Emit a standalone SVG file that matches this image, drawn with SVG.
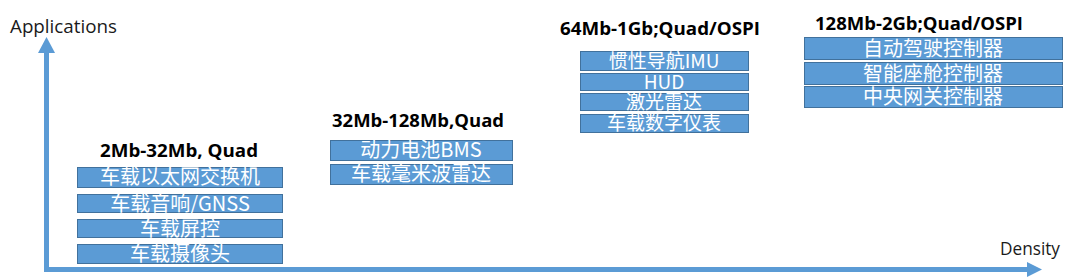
<svg xmlns="http://www.w3.org/2000/svg" width="1080" height="279" viewBox="0 0 1080 279">
<style>
.bx{fill:#5B9BD5;stroke:#41719C;stroke-width:1}
.bt{fill:#FFFFFF;font-family:"Noto Sans CJK SC","Open Sans",sans-serif;font-size:20px;text-anchor:middle}
.bs{font-size:19px}
.ti{fill:#000000;font-family:"Open Sans","Liberation Sans",sans-serif;font-weight:bold;font-size:18px;text-anchor:middle}
.ax{fill:#1A1A1A;font-family:"Open Sans","Liberation Sans",sans-serif;font-size:17.5px}
.axis{fill:#5B9BD5}
</style>
<rect width="1080" height="279" fill="#FFFFFF"/>
<g id="connectors">
<rect class="axis" x="44" y="52" width="5" height="220"/>
<polygon class="axis" points="46.5,37 55,53 38,53"/>
<rect class="axis" x="44" y="267" width="984" height="5"/>
<polygon class="axis" points="1042,269.5 1027,262 1027,277"/>
</g>
<g id="axis-y-label"><text class="ax" x="10" y="33" textLength="107" lengthAdjust="spacingAndGlyphs">Applications</text></g>
<g id="axis-x-label"><text class="ax" x="1000" y="255" textLength="60" lengthAdjust="spacingAndGlyphs">Density</text></g>
<g id="group1">
<text class="ti" x="179" y="157" textLength="158" lengthAdjust="spacingAndGlyphs">2Mb-32Mb, Quad</text>
<rect class="bx" x="77.5" y="167.5" width="205" height="20"/>
<text class="bt" x="180" y="184">车载以太网交换机</text>
<rect class="bx" x="77.5" y="194.5" width="205" height="18"/>
<text class="bt" x="180" y="211">车载音响/GNSS</text>
<rect class="bx" x="77.5" y="219.5" width="205" height="18"/>
<text class="bt" x="180" y="236">车载屏控</text>
<rect class="bx" x="77.5" y="244.5" width="205" height="19"/>
<text class="bt" x="180" y="261">车载摄像头</text>
</g>
<g id="group2">
<text class="ti" x="418" y="127" textLength="172" lengthAdjust="spacingAndGlyphs">32Mb-128Mb,Quad</text>
<rect class="bx" x="330.5" y="140.5" width="182" height="20"/>
<text class="bt" x="421" y="157">动力电池BMS</text>
<rect class="bx" x="330.5" y="164.5" width="182" height="20"/>
<text class="bt" x="421" y="181">车载毫米波雷达</text>
</g>
<g id="group3">
<text class="ti" x="660" y="35" textLength="200" lengthAdjust="spacingAndGlyphs">64Mb-1Gb;Quad/OSPI</text>
<rect class="bx" x="580.5" y="51.5" width="168" height="19"/>
<text class="bt bs" x="664" y="68">惯性导航IMU</text>
<rect class="bx" x="580.5" y="73.5" width="168" height="17"/>
<text class="bt bs" x="664" y="89">HUD</text>
<rect class="bx" x="580.5" y="93.5" width="168" height="17"/>
<text class="bt bs" x="664" y="109">激光雷达</text>
<rect class="bx" x="580.5" y="114.5" width="168" height="18"/>
<text class="bt bs" x="664" y="130">车载数字仪表</text>
</g>
<g id="group4">
<text class="ti" x="919" y="30" textLength="208" lengthAdjust="spacingAndGlyphs">128Mb-2Gb;Quad/OSPI</text>
<rect class="bx" x="804.5" y="37.5" width="258" height="22"/>
<text class="bt" x="933" y="56">自动驾驶控制器</text>
<rect class="bx" x="804.5" y="62.5" width="258" height="22"/>
<text class="bt" x="933" y="81">智能座舱控制器</text>
<rect class="bx" x="804.5" y="86.5" width="258" height="21"/>
<text class="bt" x="933" y="104">中央网关控制器</text>
</g>
</svg>
